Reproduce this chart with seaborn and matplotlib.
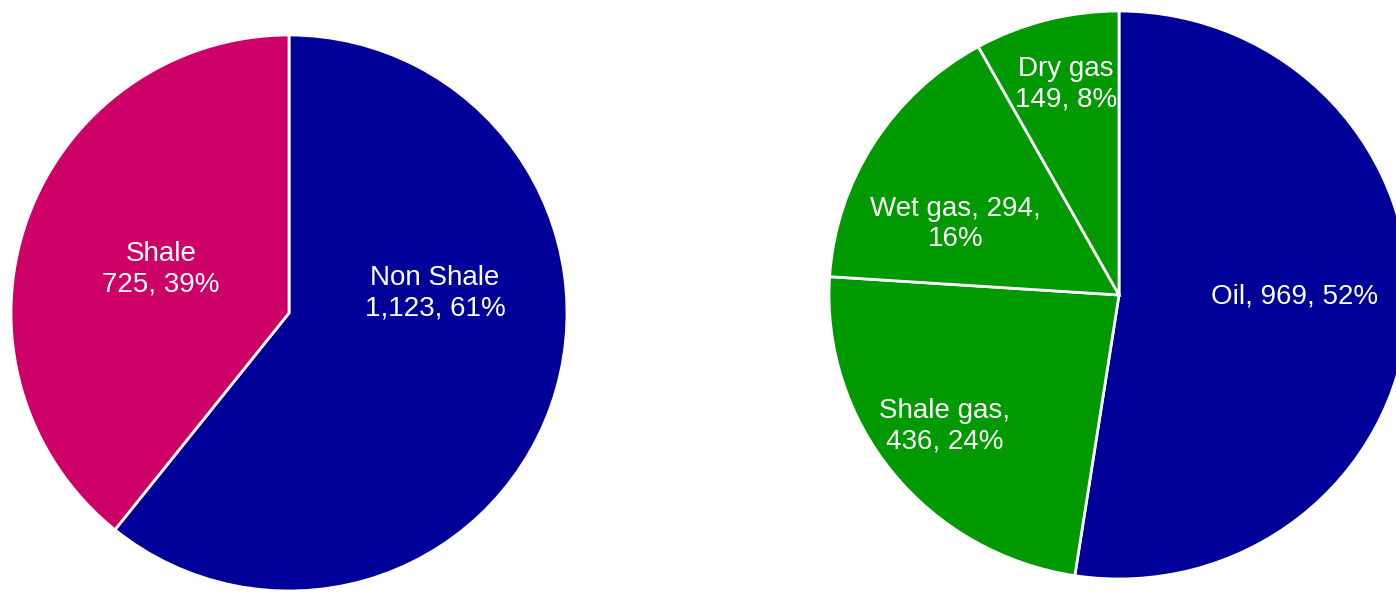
import matplotlib
matplotlib.use("Agg")
import matplotlib.pyplot as plt
from matplotlib.patches import Rectangle
import seaborn as sns

# Reserves by resource type (left) and by product (right)
left_names = ["Non Shale", "Shale"]
left_values = [1123, 725]
left_formats = ["{name}\n{value}, {pct}%", "{name}\n{value}, {pct}%"]

right_names = ["Oil", "Shale gas", "Wet gas", "Dry gas"]
right_values = [969, 436, 294, 149]
right_formats = ["{name}, {value}, {pct}%", "{name},\n{value}, {pct}%",
                 "{name}, {value},\n{pct}%", "{name}\n{value}, {pct}%"]

NAVY, MAGENTA, GREEN = "#000099", "#CC0066", "#009900"
left_colors = [NAVY, MAGENTA]
right_colors = [NAVY, GREEN, GREEN, GREEN]

# label anchor points in units of the pie radius
left_label_xy = [(0.525, 0.070), (-0.460, 0.158)]
right_label_xy = [(0.605, -0.006), (-0.601, -0.463), (-0.563, 0.250), (-0.182, 0.741)]

sns.set_theme(style="white")
plt.rcParams["font.family"] = ["Liberation Sans", "DejaVu Sans"]

W, H = 1396, 594
fig = plt.figure(figsize=(W / 100, H / 100), dpi=100)
fig.patch.set_facecolor("white")


def draw_pie(rect, names, values, formats, colors, label_xy, clip_left=False):
    ax = fig.add_axes(rect)
    ax.pie(values, colors=colors, startangle=90, counterclock=False,
           radius=1.0, wedgeprops=dict(edgecolor="white", linewidth=2.0),
           frame=False)
    ax.set_xlim(-1, 1)
    ax.set_ylim(-1, 1)
    ax.set_aspect("auto")
    ax.axis("off")
    total = sum(values)
    clip = Rectangle((-1.2, -1.2), 1.2 - 0.004, 2.4, transform=ax.transData,
                     visible=False)
    ax.add_patch(clip)
    for name, val, fmt, (x, y) in zip(names, values, formats, label_xy):
        txt = fmt.format(name=name, value=f"{val:,}",
                         pct=round(100 * val / total))
        t = ax.text(x, y, txt, ha="center", va="center", color="white",
                    fontsize=20, linespacing=1.22)
        if clip_left and x < 0:
            t.set_clip_path(clip)
    return ax


def px_rect(cx, cy, rx, ry):
    return [(cx - rx) / W, (H - cy - ry) / H, 2 * rx / W, 2 * ry / H]


draw_pie(px_rect(289, 313, 278, 278), left_names, left_values, left_formats,
         left_colors, left_label_xy)
draw_pie(px_rect(1119, 295, 290, 284), right_names, right_values, right_formats,
         right_colors, right_label_xy, clip_left=True)

fig.savefig("out.png", dpi=100, facecolor="white")
